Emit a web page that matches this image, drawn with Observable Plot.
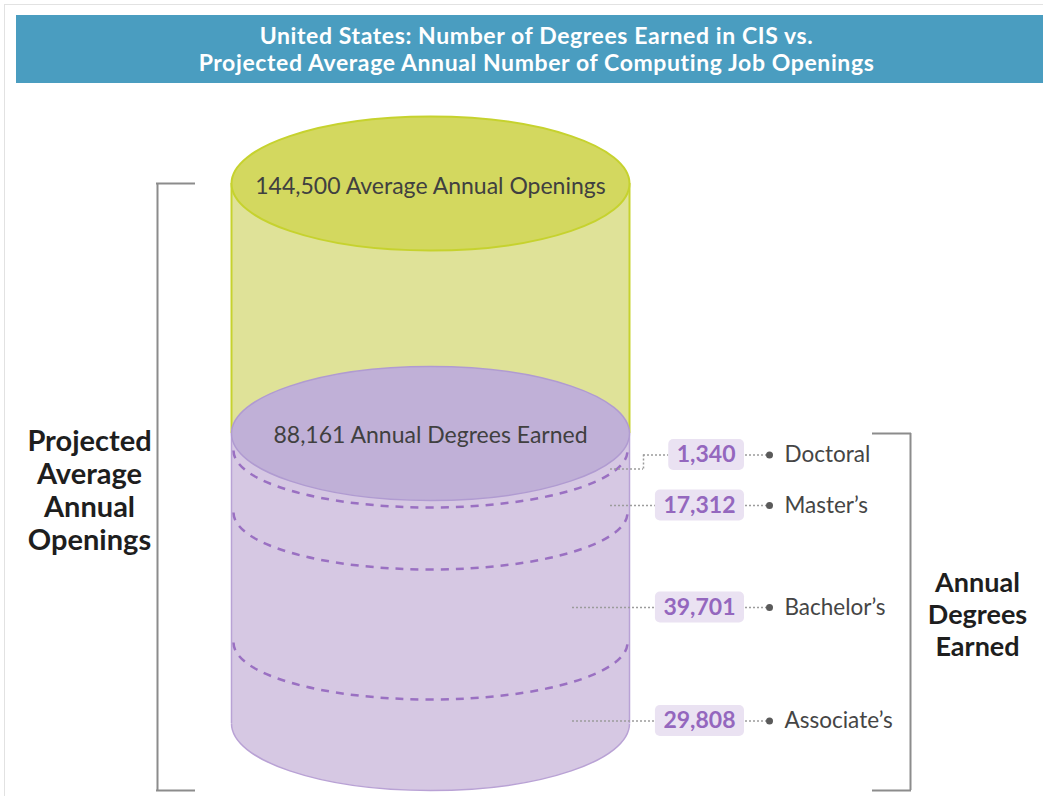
<!DOCTYPE html>
<html>
<head>
<meta charset="utf-8">
<script src="https://cdn.jsdelivr.net/npm/d3@7"></script>
<script src="https://cdn.jsdelivr.net/npm/@observablehq/plot@0.6"></script>
<style>
  body { margin: 0; background: #fff; font-family: Lato, sans-serif; }
  #wrap { position: relative; width: 1043px; height: 796px; overflow: hidden; }
  #frame { position: absolute; left: 4px; top: 4px; right: 0; bottom: 0; border-left: 1px solid #e2e2e2; border-top: 1px solid #e2e2e2; pointer-events: none; }
  #head { height: 83px; padding-top: 15px; box-sizing: border-box; }
  #title { margin-left: 16px; height: 68px; background: #4a9dc0; color: #fff; font-weight: 700; font-size: 23px; letter-spacing: 0.6px; line-height: 27px; text-align: center; display: flex; flex-direction: column; justify-content: center; padding-left: 14px; box-sizing: border-box; }
  #chart svg { display: block; }
</style>
</head>
<body>
<div id="wrap">
  <div id="frame"></div>
  <div id="head"><div id="title"></div></div>
  <div id="chart"></div>
</div>
<script>
// ---- data ----
const titleLines = ["United States: Number of Degrees Earned in CIS vs.", "Projected Average Annual Number of Computing Job Openings"];
const projectedOpenings = 144500;
const totalDegrees = 88161;
const degreeTypes = ["Doctoral", "Master\u2019s", "Bachelor\u2019s", "Associate\u2019s"];
const degreeCounts = [1340, 17312, 39701, 29808];
const openingsText = "Average Annual Openings";
const degreesText = "Annual Degrees Earned";
const leftLabel = "Projected\nAverage\nAnnual\nOpenings";
const rightLabel = "Annual\nDegrees\nEarned";

document.getElementById("title").innerHTML = titleLines.map(t => `<div>${t}</div>`).join("");

// stack segments from the bottom (Associate's) up to Doctoral
const segs = [];
{
  let acc = 0;
  for (let i = degreeTypes.length - 1; i >= 0; i--) {
    segs.unshift({type: degreeTypes[i], count: degreeCounts[i], lo: acc, hi: acc + degreeCounts[i], mid: acc + degreeCounts[i] / 2, idx: i});
    acc += degreeCounts[i];
  }
}
const boundaries = segs.filter(s => s.lo > 0).map(s => s.lo);
const fmt = d3.format(",");

// ---- layout / style (not data) ----
const W = 1043, H = 713;
const CX = 430, RX = 199, RY = 67, DRY = 57;
const boxRight = 744;
// the infographic is not drawn to scale: stylised piecewise vertical layout
const breaks = [0, ...segs.slice().reverse().map(s => s.hi), projectedOpenings];
const breakPx = [640, 559, 429, 367, 350, 100];
const stylised = (a, b) => {
  const f = d3.scaleLinear().domain(breaks.map(v => v / projectedOpenings)).range(breakPx);
  return t => f(t);
};
const labelLayout = [
  {dy: 13, from: 610, elbowX: 643, elbowDy: 27},
  {dy: 24, from: 610},
  {dy: 30, from: 572},
  {dy: 38, from: 572}
];
const valueFontSize = 23;
const cnv = document.createElement("canvas").getContext("2d");
cnv.font = `bold ${valueFontSize}px Lato`;
const textW = s => cnv.measureText(s).width;

function ellipse(rx, ry, half) {
  const k = 0.5523;
  return {draw(c) {
    if (half) {
      c.moveTo(-rx, 0);
      c.bezierCurveTo(-rx, k * ry, -k * rx, ry, 0, ry);
      c.bezierCurveTo(k * rx, ry, rx, k * ry, rx, 0);
      return;
    }
    c.moveTo(rx, 0);
    c.bezierCurveTo(rx, k * ry, k * rx, ry, 0, ry);
    c.bezierCurveTo(-k * rx, ry, -rx, k * ry, -rx, 0);
    c.bezierCurveTo(-rx, -k * ry, -k * rx, -ry, 0, -ry);
    c.bezierCurveTo(k * rx, -ry, rx, -k * ry, rx, 0);
    c.closePath();
  }};
}

const purpleEdge = "#b9a2d5", greenEdge = "#c6d22e", gray = "#8c8c8c", purpleSide = "#d6c8e3";
const marks = [
  // green body
  Plot.rect([{lo: totalDegrees, hi: projectedOpenings}], {x1: CX - RX, x2: CX + RX, y1: "lo", y2: "hi", fill: "#dfe298"}),
  Plot.ruleX([CX - RX, CX + RX], {y1: totalDegrees, y2: projectedOpenings, stroke: greenEdge, strokeWidth: 2}),
  // purple body
  Plot.dot([0], {x: CX, y: d => d, r: 1, symbol: ellipse(RX, RY, true), fill: purpleSide, stroke: "none"}),
  Plot.rect([{lo: 0, hi: totalDegrees}], {x1: CX - RX, x2: CX + RX, y1: "lo", y2: "hi", insetBottom: -2, fill: purpleSide}),
  Plot.ruleX([CX - RX, CX + RX], {y1: 0, y2: totalDegrees, stroke: purpleEdge, strokeWidth: 1.5}),
  Plot.dot([0], {x: CX, y: d => d, r: 1, symbol: ellipse(RX, RY, true), fill: "none", stroke: purpleEdge, strokeWidth: 1.5}),
  // dashed segment boundaries
  Plot.dot(boundaries, {x: CX, y: d => d, r: 1, symbol: ellipse(RX - 2, DRY, true), fill: "none", stroke: "#9a70c2", strokeWidth: 2.5, strokeDasharray: "8,7"}),
  // top ellipses
  Plot.dot([totalDegrees], {x: CX, y: d => d, r: 1, symbol: ellipse(RX, RY), fill: "#c0b0d7", stroke: "#b09bd1", strokeWidth: 1.5}),
  Plot.dot([projectedOpenings], {x: CX, y: d => d, r: 1, symbol: ellipse(RX, RY), fill: "#d3d85f", stroke: greenEdge, strokeWidth: 2}),
  Plot.text([projectedOpenings], {x: CX, y: d => d, dy: 3, text: d => `${fmt(d)} ${openingsText}`, fontSize: 23, fill: "#404040", fontFamily: "Lato"}),
  Plot.text([totalDegrees], {x: CX, y: d => d, dy: 2, text: d => `${fmt(d)} ${degreesText}`, fontSize: 23, fill: "#404040", fontFamily: "Lato"}),
  // brackets
  Plot.ruleX([157], {y1: projectedOpenings, y2: 0, insetBottom: -RY, stroke: gray, strokeWidth: 2}),
  Plot.ruleY([projectedOpenings], {x1: 156, x2: 195, stroke: gray, strokeWidth: 2}),
  Plot.ruleY([0], {x1: 156, x2: 195, dy: RY, stroke: gray, strokeWidth: 2}),
  Plot.ruleX([910], {y1: totalDegrees, y2: 0, insetBottom: -RY, stroke: gray, strokeWidth: 2}),
  Plot.ruleY([totalDegrees], {x1: 872, x2: 911, stroke: gray, strokeWidth: 2}),
  Plot.ruleY([0], {x1: 872, x2: 911, dy: RY, stroke: gray, strokeWidth: 2}),
  Plot.text([leftLabel], {x: 89, frameAnchor: "middle", dy: 50, text: d => d, fontSize: 29, fontWeight: 700, lineHeight: 1.14, fill: "#1e1e1e", fontFamily: "Lato"}),
  Plot.text([rightLabel], {x: 977, frameAnchor: "middle", dy: 174, text: d => d, fontSize: 27, fontWeight: 700, lineHeight: 1.18, fill: "#1e1e1e", fontFamily: "Lato"})
];

segs.forEach(s => {
  const L = labelLayout[s.idx];
  const label = fmt(s.count);
  const boxLeft = boxRight - textW(label) - 17;
  const dot = {stroke: "#9c9c9c", strokeWidth: 1.5, strokeDasharray: "2,2"};
  if (L.elbowX) {
    marks.push(Plot.ruleY([s], {y: "mid", x1: L.from, x2: L.elbowX, dy: L.elbowDy, ...dot}));
    marks.push(Plot.ruleX([s], {x: L.elbowX, y1: "mid", y2: "mid", dy: (L.dy + L.elbowDy) / 2, insetTop: -(L.elbowDy - L.dy) / 2, insetBottom: -(L.elbowDy - L.dy) / 2, ...dot}));
    marks.push(Plot.ruleY([s], {y: "mid", x1: L.elbowX, x2: boxLeft, dy: L.dy, ...dot}));
  } else {
    marks.push(Plot.ruleY([s], {y: "mid", x1: L.from, x2: boxLeft, dy: L.dy, ...dot}));
  }
  marks.push(Plot.rect([s], {x1: boxLeft, x2: boxRight, y1: "mid", y2: "mid", insetTop: -15.5, insetBottom: -15.5, dy: L.dy, rx: 5, fill: "#eae2f2"}));
  marks.push(Plot.text([s], {x: boxRight - 9, y: "mid", dy: L.dy, text: d => fmt(d.count), textAnchor: "end", fontSize: valueFontSize, fontWeight: 700, fill: "#9467be", fontFamily: "Lato"}));
  marks.push(Plot.ruleY([s], {y: "mid", x1: boxRight + 1, x2: 766, dy: L.dy, ...dot}));
  marks.push(Plot.dot([s], {x: 769, y: "mid", dy: L.dy, r: 3.5, fill: "#5a5a5a"}));
  marks.push(Plot.text([s], {x: 784, y: "mid", dy: L.dy, text: "type", textAnchor: "start", fontSize: 22.5, fill: "#454545", fontFamily: "Lato"}));
});

const chart = Plot.plot({
  width: W,
  height: H,
  margin: 0,
  style: {background: "transparent", fontFamily: "Lato"},
  x: {domain: [0, W], range: [0, W], axis: null},
  y: {domain: [0, projectedOpenings], range: [breakPx[0], breakPx[breakPx.length - 1]], interpolate: stylised, axis: null},
  marks
});
document.getElementById("chart").appendChild(chart);
</script>
</body>
</html>
